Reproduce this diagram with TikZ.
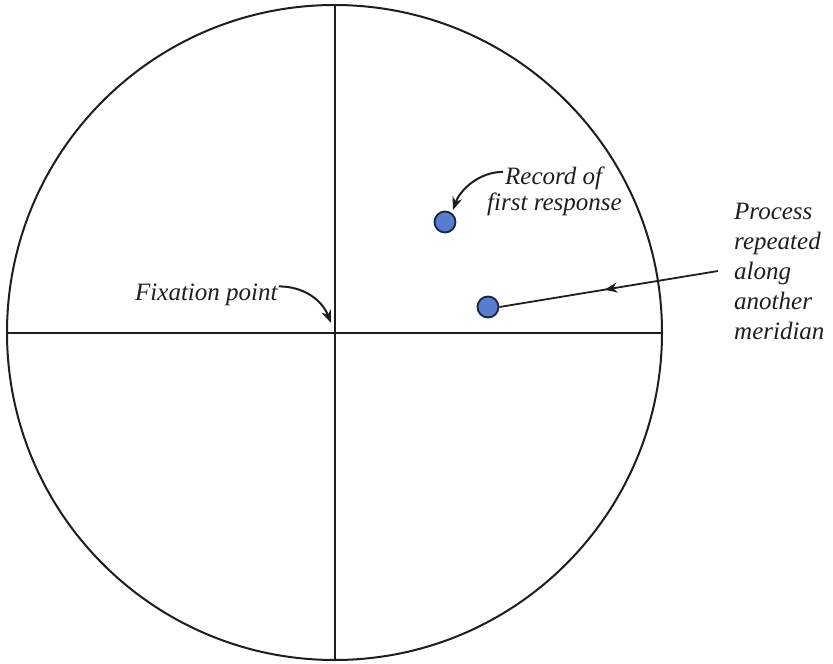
\documentclass[tikz,border=0pt]{standalone}
\usepackage{fontspec}
\setmainfont{Liberation Serif}[ItalicFont={Liberation Serif Italic}]
\newfontfamily\lblfont{Liberation Serif Italic}
\usetikzlibrary{arrows.meta,decorations.markings}
\definecolor{dotblue}{RGB}{88,124,206}
\definecolor{dotedge}{RGB}{25,35,70}
\definecolor{ink}{RGB}{30,30,30}
\tikzset{
  ln/.style={draw=ink,line width=2pt},
  dotnode/.style={circle,draw=dotedge,line width=1.8pt,fill=dotblue,minimum size=21pt,inner sep=0pt},
  lbl/.style={font=\lblfont\fontsize{25}{30}\selectfont,text=ink,inner sep=0pt},
  tip/.style={-{Stealth[length=13pt,width=10pt]}},
  midarrow/.style={postaction={decorate},decoration={markings,mark=at position 0.52 with {\arrow{Stealth[length=13pt,width=10pt]}}}}
}
\begin{document}
\begin{tikzpicture}[x=1pt,y=-1pt]
\useasboundingbox (0,0) rectangle (833,664);
\draw[ln] (334.5,332.5) circle (327.5);
\coordinate (L) at (7,333);
\coordinate (R) at (662,333);
\coordinate (T) at (335,5);
\coordinate (B) at (335,660);
\draw[ln] (L) -- (R);
\draw[ln] (T) -- (B);
\node[dotnode] (d1) at (445,222) {};
\node[dotnode] (d2) at (488,307) {};
\node[lbl,anchor=base west] (fix) at (135,300) {Fixation point};
\node[lbl,anchor=base west] (rec1) at (505,184) {Record of};
\node[lbl,anchor=base west] (rec2) at (487,210) {first response};
\node[lbl,anchor=north west,align=left] (proc) at (734,203) {Process\\repeated\\along\\another\\meridian};
\coordinate (fixtip) at (331,323);
\coordinate (proctail) at (718,271);
\draw[ink,line width=2pt,tip] (fix.east) ++(1,-8) .. controls +(25,0) and (322,300) .. (fixtip);
\draw[ink,line width=2pt,tip] (rec1.west) ++(-2,-6) .. controls +(-24,0) and (460,190) .. (453,210);
\draw[ink,line width=1.8pt,midarrow] (proctail) -- (d2.east);
\end{tikzpicture}
\end{document}
